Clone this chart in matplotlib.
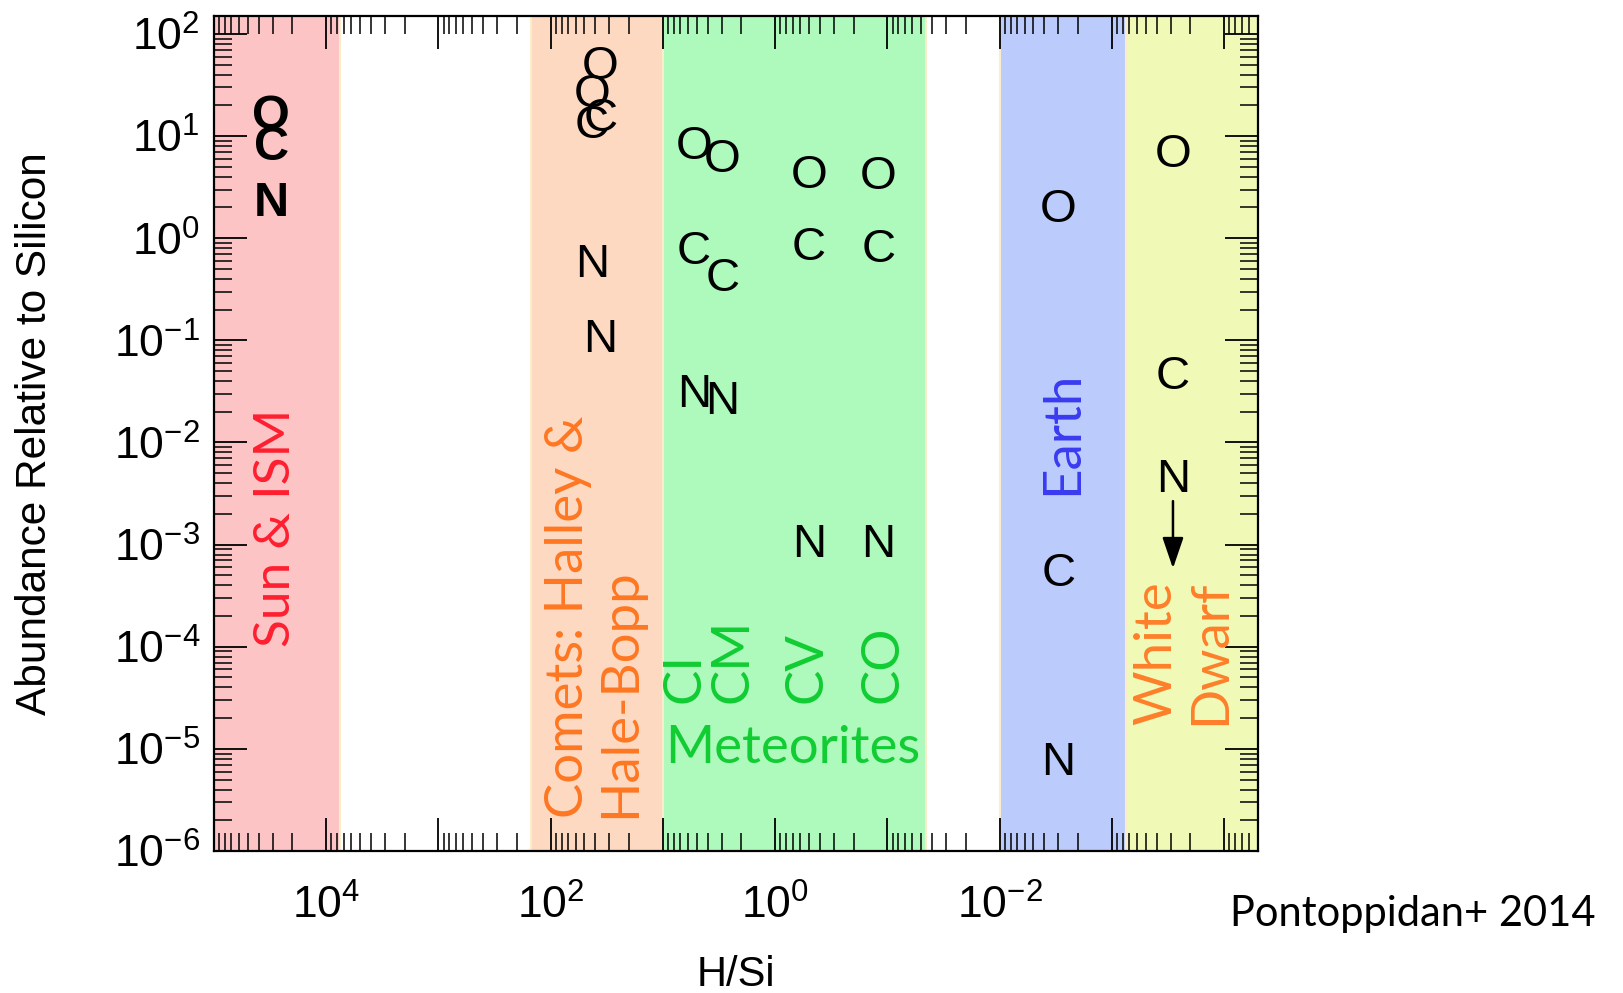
import matplotlib
matplotlib.use("Agg")
import matplotlib.pyplot as plt
import numpy as np
from matplotlib.ticker import LogLocator, FuncFormatter, NullFormatter

plt.rcParams['font.family'] = 'Liberation Sans'
plt.rcParams['mathtext.default'] = 'regular'

# H/Si ranges of each reservoir (x extent of shaded bands)
band_names = ['Sun & ISM', 'Comets', 'Meteorites', 'Earth', 'White Dwarf']
band_lo = [1e5, 150, 10, 1e-2, 7.5e-4]
band_hi = [7.5e3, 10, 0.045, 7.5e-4, 5e-5]
band_colors = ['#fcc4c4', '#fed9c2', '#adfabc', '#bbccfc', '#f0f9b6']

# abundances relative to Si: (H/Si, O, C, N)
sun_hsi = [3.1e4]
sun_O = [15.5]
sun_C = [7.8]
sun_N = [2.2]

comet_hsi = [36, 43]
comet_O = [47, 25]
comet_C = [14.7, 12.6]
comet_N = [0.10, 0.55]

met_names = ['CI', 'CM', 'CV', 'CO']
met_hsi = [5.3, 2.95, 0.50, 0.12]
met_O = [7.8, 5.9, 4.1, 4.0]
met_C = [0.73, 0.40, 0.80, 0.77]
met_N = [0.029, 0.025, 1.0e-3, 1.0e-3]

earth_hsi = [3.0e-3]
earth_O = [1.9]
earth_C = [5.2e-4]
earth_N = [7.2e-6]

wd_hsi = [2.86e-4]
wd_O = [6.6]
wd_C = [0.044]
wd_N = [4.3e-3]
wd_N_limit_end = [5.5e-4]

fig = plt.figure(figsize=(16.23, 9.93), dpi=100)
ax = fig.add_axes([0.1318, 0.143, 0.6433, 0.8409])
ax.set_xscale('log')
ax.set_yscale('log')
ax.set_xlim(1e5, 5e-5)
ax.set_ylim(1e-6, 150)

for lo, hi, c in zip(band_lo, band_hi, band_colors):
    ax.axvspan(hi, lo, facecolor=c, edgecolor='#fbeccb', lw=1.5, zorder=0)

letter_kw = dict(ha='center', va='center', fontsize=34, color='black', zorder=3)


def put_letters(xs, Os, Cs, Ns, **kw):
    opts = dict(letter_kw)
    opts.update(kw)
    for x, o, c, n in zip(xs, Os, Cs, Ns):
        ax.text(x, o, 'O', **opts)
        ax.text(x, c, 'C', **opts)
        ax.text(x, n, 'N', **opts)


put_letters(sun_hsi, sun_O, sun_C, sun_N, fontweight='bold', fontsize=35)
put_letters(comet_hsi, comet_O, comet_C, comet_N)
put_letters(met_hsi, met_O, met_C, met_N)
put_letters(earth_hsi, earth_O, earth_C, earth_N)
put_letters(wd_hsi, wd_O, wd_C, wd_N)

# white dwarf N is an upper limit
for x, n, end in zip(wd_hsi, wd_N, wd_N_limit_end):
    ax.annotate('', xy=(x, end), xytext=(x, n * 0.66),
                arrowprops=dict(arrowstyle='-|>,head_length=1.9,head_width=0.65',
                                color='black', lw=1.8), zorder=3)

# band labels
lab_font = 'Lato'
ax.text(2.8e4, 1e-4, 'Sun & ISM', rotation=90, ha='center', va='bottom',
        color='#ff1f2f', fontsize=37, family=lab_font)
ax.text(40.5, 2.1e-6, 'Comets: Halley &\nHale-Bopp', rotation=90, ha='center',
        va='bottom', multialignment='left', linespacing=1.12,
        color='#ff7722', fontsize=38, family=lab_font)
met_label_x = [6.4, 2.4, 0.52, 0.11]
for x, name in zip(met_label_x, met_names):
    ax.text(x, 2.8e-5, name, rotation=90, ha='center', va='bottom',
            color='#11cc33', fontsize=38, family=lab_font)
ax.text(0.70, 1e-5, 'Meteorites', ha='center', va='center',
        color='#11cc33', fontsize=38, family=lab_font)
ax.text(2.75e-3, 3.05e-3, 'Earth', rotation=90, ha='center', va='bottom',
        color='#3a3af0', fontsize=38, family=lab_font)
ax.text(2.28e-4, 1.7e-5, 'White\nDwarf', rotation=90, ha='center', va='bottom',
        multialignment='left', linespacing=1.18,
        color='#ff7f2a', fontsize=38, family=lab_font)

# axes, ticks
for s in ax.spines.values():
    s.set_linewidth(1.6)
ax.tick_params(which='both', direction='in', top=True, right=True)
ax.tick_params(which='major', length=24, width=1.3, labelsize=32)
ax.tick_params(which='minor', length=13, width=1.1)
ax.xaxis.set_major_locator(LogLocator(base=10, numticks=20))
ax.xaxis.set_minor_locator(LogLocator(base=10, subs=range(2, 10), numticks=20))
ax.yaxis.set_major_locator(LogLocator(base=10, numticks=20))
ax.yaxis.set_minor_locator(LogLocator(base=10, subs=range(2, 10), numticks=20))
ax.xaxis.set_minor_formatter(NullFormatter())
ax.yaxis.set_minor_formatter(NullFormatter())


def x_labels(v, pos):
    e = int(round(np.log10(v)))
    if e % 2 or e < -2 or e > 4:
        return ''
    return r'$\mathdefault{10^{%d}}$' % e


def y_labels(v, pos):
    return r'$\mathdefault{10^{%d}}$' % int(round(np.log10(v)))


ax.xaxis.set_major_formatter(FuncFormatter(x_labels))
ax.yaxis.set_major_formatter(FuncFormatter(y_labels))
ax.tick_params(axis='x', pad=24)
ax.tick_params(axis='y', pad=10)

ax.set_ylabel('Abundance Relative to Silicon', fontsize=30.5, labelpad=42)
ax.set_xlabel('H/Si', fontsize=30, labelpad=20)

fig.text(0.8706, 0.0795, 'Pontoppidan+ 2014', ha='center', va='center',
         fontsize=30, family='Lato')

fig.savefig('out.png', dpi=100)
